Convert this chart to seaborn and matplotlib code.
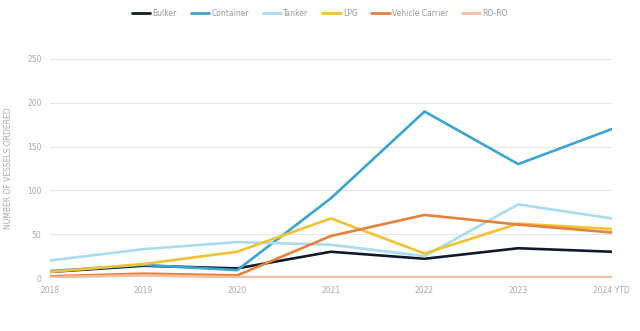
import matplotlib
matplotlib.use("Agg")
import matplotlib.pyplot as plt
import seaborn as sns
import pandas as pd

years = [2018, 2019, 2020, 2021, 2022, 2023, 2024]
year_labels = ["2018", "2019", "2020", "2021", "2022", "2023", "2024 YTD"]
series_names = ["Bulker", "Container", "Tanker", "LPG", "Vehicle Carrier", "RO-RO"]
bulker = [7, 14, 11, 30, 22, 34, 30]
container = [8, 15, 9, 91, 190, 130, 170]
tanker = [20, 33, 41, 38, 25, 84, 68]
lpg = [7, 16, 30, 68, 28, 62, 56]
vehicle = [2, 5, 3, 48, 72, 61, 52]
roro = [1, 3, 1, 1, 1, 1, 1]
colors = ["#111a2c", "#3aa6d0", "#a9dcee", "#f1c232", "#e6803c", "#f5bf9f"]

values = [bulker, container, tanker, lpg, vehicle, roro]
rows = []
for name, vals in zip(series_names, values):
    for y, v in zip(years, vals):
        rows.append({"Year": y, "Value": v, "Series": name})
df = pd.DataFrame(rows)

sns.set_style("white")
plt.rcParams['font.family'] = ['DejaVu Sans']

fig = plt.figure(figsize=(6.4, 3.31), dpi=100)
ax = fig.add_axes([0.078, 0.16, 0.878, 0.662])
sns.lineplot(data=df, x="Year", y="Value", hue="Series", palette=dict(zip(series_names, colors)),
             hue_order=series_names, linewidth=1.9, ax=ax, legend=False)

ax.set_xlim(2018, 2024)
ax.set_ylim(0, 250)
ax.set_yticks([0, 50, 100, 150, 200, 250])
ax.set_xticks(years)
ax.set_xticklabels(year_labels)
ax.grid(axis="y", color="#e6e6e6", linewidth=0.8)
ax.set_axisbelow(True)
for s in ax.spines.values():
    s.set_visible(False)
ax.tick_params(axis="both", length=0, labelsize=5.5, colors="#aaaaaa", pad=6)
ax.set_xlabel("")
ax.set_ylabel("NUMBER OF VESSELS ORDERED", fontsize=5.5, color="#aaaaaa", labelpad=10)

from matplotlib.lines import Line2D
handles = [Line2D([0], [0], color=c, linewidth=2) for c in colors]
fig.legend(handles, series_names, loc="upper center", bbox_to_anchor=(0.5, 0.995), ncol=6,
           frameon=False, fontsize=5.5, labelcolor="#999999", handlelength=2.4, columnspacing=1.8,
           handletextpad=0.3)

fig.savefig("out.png", dpi=100)
